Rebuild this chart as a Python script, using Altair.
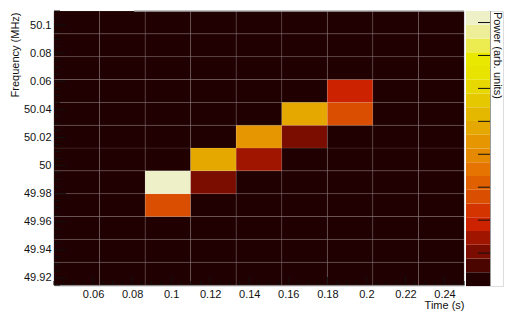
import altair as alt
import numpy as np
import pandas as pd

# bin edges
time_edges = [0.04, 0.0633, 0.0867, 0.11, 0.1333, 0.1567, 0.18, 0.2033, 0.2267, 0.25]
freq_edges = [49.915, 49.93125, 49.9475, 49.96375, 49.98, 49.99625, 50.0125,
              50.02875, 50.045, 50.06125, 50.0775, 50.09375, 50.11]

# non-empty cells: time-bin index, frequency-bin index (from bottom), power
hot_t = [2, 2, 3, 3, 4, 4, 5, 5, 6, 6]
hot_f = [4, 3, 5, 4, 6, 5, 7, 6, 8, 7]
hot_p = [8.14, 2.71, 4.80, 1.04, 4.38, 1.46, 4.80, 1.04, 1.88, 2.71]

x_major = [0.06, 0.08, 0.1, 0.12, 0.14, 0.16, 0.18, 0.2, 0.22, 0.24]
y_major = [49.92, 49.94, 49.96, 49.98, 50.0, 50.02, 50.04, 50.06, 50.08, 50.1]
cb_ticks = [1, 2, 3, 4, 5, 6, 7, 8]
p_max = 8.35
top_line = [0.081, 0.25]   # partial top frame line, time range

palette = ["#200000", "#4A0500", "#7A0D00", "#A01500", "#CC2200", "#D33400",
           "#D94E00", "#E06000", "#E57400", "#E58A00", "#E59600", "#E5A800",
           "#E5B800", "#E5C800", "#E6D800", "#E8E400", "#E8E800", "#ECEC50",
           "#EEEE98", "#EEF0C8"]

W, H = 410, 274

# table of all cells
power = {(t, f): p for t, f, p in zip(hot_t, hot_f, hot_p)}
rows = []
for i in range(len(time_edges) - 1):
    for j in range(len(freq_edges) - 1):
        rows.append({"t0": time_edges[i], "t1": time_edges[i + 1],
                     "f0": freq_edges[j], "f1": freq_edges[j + 1],
                     "p": power.get((i, j), 0.0)})
cells = pd.DataFrame(rows)

x_minor = [v for v in np.round(np.arange(0.04, 0.2501, 0.005), 3) if not np.any(np.isclose(v, x_major))]
y_minor = [v for v in np.round(np.arange(49.915, 50.1101, 0.005), 3) if not np.any(np.isclose(v, y_major))]

xs = alt.Scale(domain=[0.04, 0.25], nice=False, zero=False)
ys = alt.Scale(domain=[49.915, 50.11], nice=False, zero=False)
cs = alt.Scale(type="quantize", domain=[0, p_max], range=palette, nice=False, zero=True)

FONT = "Liberation Sans"

y_label_expr = ("abs(datum.value-50.08)<0.001 ? '0.08' : "
                "abs(datum.value-50.06)<0.001 ? '0.06' : format(datum.value, '.2~f')")

x_axis = alt.Axis(
    values=x_major, format=".2~f", title="Time (s)", grid=False, ticks=False,
    labelPadding=3, labelFontSize=11, labelFont=FONT, labelColor="#111",
    domainColor="#888", domainWidth=1.5,
    titleFont=FONT, titleFontSize=11, titleFontWeight="normal", titleColor="#111",
    titleAnchor="end", titleAlign="right", titleX=W, titleY=20.5, titleBaseline="middle")
y_axis = alt.Axis(
    values=y_major, labelExpr=y_label_expr, title="Frequency (MHz)", grid=False, ticks=False,
    labelPadding=3, labelFontSize=11, labelFont=FONT, labelColor="#111",
    domainColor="#888", domainWidth=1.5,
    titleFont=FONT, titleFontSize=11, titleFontWeight="normal", titleColor="#111",
    titleAngle=-90, titleAlign="right", titleBaseline="bottom", titleX=-34, titleY=1)

heat = alt.Chart(cells).mark_rect(stroke="white", strokeOpacity=0.09, strokeWidth=1).encode(
    x=alt.X("t0:Q", scale=xs, axis=x_axis),
    x2="t1:Q",
    y=alt.Y("f0:Q", scale=ys, axis=y_axis),
    y2="f1:Q",
    color=alt.Color("p:Q", scale=cs, legend=None),
)

tick_col = "#111"
ymaj = alt.Chart(pd.DataFrame({"f0": y_major})).mark_rule(color=tick_col, strokeWidth=1).encode(
    y=alt.Y("f0:Q", scale=ys, axis=y_axis), x=alt.value(0), x2=alt.value(12))
ymin = alt.Chart(pd.DataFrame({"f0": y_minor})).mark_rule(color=tick_col, strokeWidth=1).encode(
    y=alt.Y("f0:Q", scale=ys, axis=y_axis), x=alt.value(0), x2=alt.value(6))
xmaj = alt.Chart(pd.DataFrame({"t0": x_major})).mark_rule(color=tick_col, strokeWidth=1).encode(
    x=alt.X("t0:Q", scale=xs, axis=x_axis), y=alt.value(H), y2=alt.value(H - 8))
xmin = alt.Chart(pd.DataFrame({"t0": x_minor})).mark_rule(color=tick_col, strokeWidth=1).encode(
    x=alt.X("t0:Q", scale=xs, axis=x_axis), y=alt.value(H), y2=alt.value(H - 4))
topl = alt.Chart(pd.DataFrame({"t0": [top_line[0]], "t1": [top_line[1]], "f0": [freq_edges[-1]]})).mark_rule(
    color="#aaa", strokeWidth=1.5).encode(
    x=alt.X("t0:Q", scale=xs, axis=x_axis), x2="t1:Q", y=alt.Y("f0:Q", scale=ys, axis=y_axis))

heat_panel = alt.layer(heat, ymaj, ymin, xmaj, xmin, topl).properties(width=W, height=H)

# colour bar
edges = np.linspace(0, p_max, len(palette) + 1)
cb = pd.DataFrame({"lo": edges[:-1], "hi": edges[1:], "mid": (edges[:-1] + edges[1:]) / 2})
cbs = alt.Scale(domain=[0, p_max], nice=False, zero=True)
cb_rect = alt.Chart(cb).mark_rect().encode(
    y=alt.Y("lo:Q", scale=cbs, axis=None), y2="hi:Q",
    x=alt.value(0), x2=alt.value(24),
    color=alt.Color("mid:Q", scale=cs, legend=None))
cb_edge = alt.Chart(pd.DataFrame({"lo": [0], "hi": [p_max]})).mark_rule(color="#999", strokeWidth=1).encode(
    y=alt.Y("lo:Q", scale=cbs, axis=None), y2="hi:Q", x=alt.value(24.5))
cb_tick = alt.Chart(pd.DataFrame({"lo": cb_ticks})).mark_rule(color=tick_col, strokeWidth=1).encode(
    y=alt.Y("lo:Q", scale=cbs, axis=None), x=alt.value(12), x2=alt.value(24))
cb_title = alt.Chart(pd.DataFrame({"t": ["Power (arb. units)"]})).mark_text(
    angle=90, align="left", baseline="alphabetic", font=FONT, fontSize=11, color="#111", clip=True
).encode(text="t:N", x=alt.value(28), y=alt.value(1))

cbar = alt.layer(cb_rect, cb_edge, cb_tick, cb_title).properties(width=37, height=H + 1)

chart = alt.hconcat(heat_panel, cbar, spacing=2, bounds="flush").properties(
    padding={"left": 0, "top": 1, "right": 0, "bottom": 0}
).configure_view(strokeWidth=0).configure(background="white")

chart.save("out.html", embed_options={"renderer": "svg", "actions": False})
